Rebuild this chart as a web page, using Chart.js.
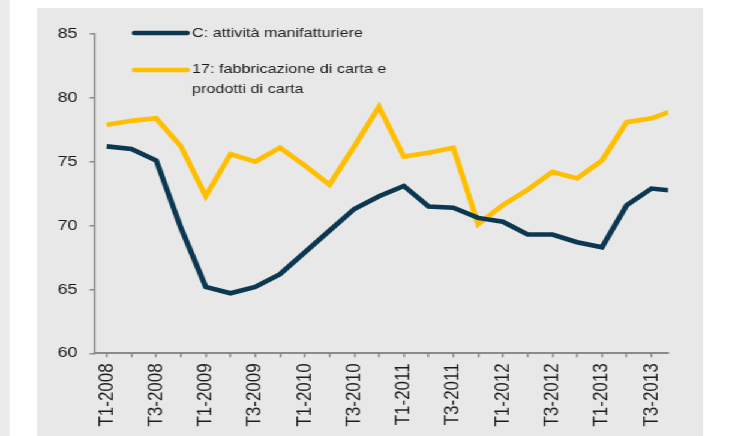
<!DOCTYPE html>
<html>
<head>
<meta charset="utf-8">
<script src="https://cdn.jsdelivr.net/npm/chart.js@4/dist/chart.umd.min.js"></script>
<style>
  html, body { margin: 0; padding: 0; background: #ffffff; overflow: hidden; width: 744px; height: 436px; }
  #wrap { position: absolute; left: 0; top: 0; width: 620px; height: 436px; transform: scaleX(1.2); transform-origin: 0 0; }
  #strip { position: absolute; left: 0; top: 0; width: 7.5px; height: 436px; background: #ebebeb; }
  #panel { position: absolute; left: 30.8px; top: 8px; width: 555px; height: 428px; background: #e8e8e8; }
  #c { position: absolute; left: 0; top: 0; }
</style>
</head>
<body>
<div id="wrap">
  <div id="strip"></div>
  <div id="panel"></div>
  <canvas id="c" width="620" height="436"></canvas>
</div>
<script>
const categories = [
  'T1-2008','T2-2008','T3-2008','T4-2008',
  'T1-2009','T2-2009','T3-2009','T4-2009',
  'T1-2010','T2-2010','T3-2010','T4-2010',
  'T1-2011','T2-2011','T3-2011','T4-2011',
  'T1-2012','T2-2012','T3-2012','T4-2012',
  'T1-2013','T2-2013','T3-2013','T4-2013'
];
const manifatturiere = [76.2, 76.0, 75.1, 69.8, 65.2, 64.7, 65.2, 66.2, 67.9, 69.6, 71.3, 72.3,
                        73.1, 71.5, 71.4, 70.6, 70.3, 69.3, 69.3, 68.7, 68.3, 71.6, 72.9, 72.7];
const carta = [77.9, 78.2, 78.4, 76.2, 72.3, 75.6, 75.0, 76.1, 74.7, 73.2, 76.2, 79.3,
               75.4, 75.7, 76.1, 70.1, 71.6, 72.8, 74.2, 73.7, 75.1, 78.1, 78.4, 79.1];
const seriesNames = ['C: attività manifatturiere', '17: fabbricazione di carta e prodotti di carta'];
const legendLines = [['C: attività manifatturiere'], ['17: fabbricazione di carta e', 'prodotti di carta']];
const yTicks = [60, 65, 70, 75, 80, 85];

const DARK = '#0b3850';
const YELLOW = '#ffbf00';
const AXIS = '#8a8a8a';
const TEXT = '#1c1c1c';

const legendPlugin = {
  id: 'customLegend',
  afterDraw(chart) {
    const ctx = chart.ctx;
    ctx.save();
    const rows = [
      { ly: 33, ty: [33] },
      { ly: 70, ty: [69.5, 89.5] }
    ];
    chart.data.datasets.forEach((ds, i) => {
      const r = rows[i];
      ctx.strokeStyle = ds.borderColor;
      ctx.lineWidth = 4.5;
      ctx.lineCap = 'round';
      ctx.beginPath();
      ctx.moveTo(112, r.ly);
      ctx.lineTo(156, r.ly);
      ctx.stroke();
      ctx.fillStyle = TEXT;
      ctx.font = '13.5px "Liberation Sans", Arial, sans-serif';
      ctx.textBaseline = 'middle';
      ctx.textAlign = 'left';
      legendLines[i].forEach((t, k) => ctx.fillText(t, 160, r.ty[k]));
    });
    ctx.restore();
  }
};

const toPoints = arr => arr.map((v, i) => ({ x: i, y: v }));

new Chart(document.getElementById('c'), {
  type: 'line',
  data: {
    datasets: [
      { label: seriesNames[0], data: toPoints(manifatturiere), borderColor: DARK, backgroundColor: DARK,
        borderWidth: 4.6, pointRadius: 0, tension: 0, clip: 0 },
      { label: seriesNames[1], data: toPoints(carta), borderColor: YELLOW, backgroundColor: YELLOW,
        borderWidth: 4.6, pointRadius: 0, tension: 0, clip: 0 }
    ]
  },
  options: {
    responsive: false,
    animation: false,
    devicePixelRatio: 1,
    layout: { padding: { left: 0, top: 34, right: 63.3, bottom: 0 } },
    plugins: { legend: { display: false }, tooltip: { enabled: false }, title: { display: false } },
    scales: {
      x: {
        type: 'linear',
        min: -0.47,
        max: 22.67,
        afterFit(scale) { scale.height = 82.7; },
        afterBuildTicks(scale) {
          scale.ticks = categories.map((c, i) => ({ value: i })).filter(t => t.value <= 22.67);
        },
        ticks: {
          autoSkip: false,
          maxRotation: 90,
          minRotation: 90,
          padding: 6,
          color: TEXT,
          font: { family: '"Liberation Sans", Arial, sans-serif', size: 17 },
          callback: (v) => (Number.isInteger(v) && v % 2 === 0) ? categories[v] : ''
        },
        grid: { drawOnChartArea: false, drawTicks: true, tickLength: 4, color: AXIS, lineWidth: 1.5 },
        border: { color: AXIS, width: 2 }
      },
      y: {
        min: 60,
        max: 85,
        afterFit(scale) { scale.width = 79.2; },
        afterBuildTicks(scale) { scale.ticks = yTicks.map(v => ({ value: v })); },
        ticks: {
          padding: 10,
          color: TEXT,
          font: { family: '"Liberation Sans", Arial, sans-serif', size: 15 }
        },
        grid: { drawOnChartArea: false, drawTicks: true, tickLength: 4.5, color: AXIS, lineWidth: 1.5 },
        border: { color: AXIS, width: 1.5 }
      }
    }
  },
  plugins: [legendPlugin]
});
</script>
</body>
</html>
